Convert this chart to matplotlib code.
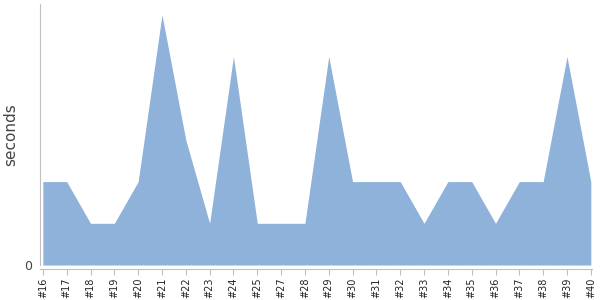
import matplotlib
matplotlib.use("Agg")
import matplotlib.pyplot as plt

builds = ["#16", "#17", "#18", "#19", "#20", "#21", "#22", "#23", "#24", "#25",
          "#27", "#28", "#29", "#30", "#31", "#32", "#33", "#34", "#35", "#36",
          "#37", "#38", "#39", "#40"]
seconds = [2, 2, 1, 1, 2, 6, 3, 1, 5, 1,
           1, 1, 5, 2, 2, 2, 1, 2, 2, 1,
           2, 2, 5, 2]

x = list(range(len(builds)))

fig = plt.figure(figsize=(6, 3), dpi=100)
ax = fig.add_axes([40/600, 35/300, 552/600, 261/300])

ax.fill_between(x, seconds, 0, color="#8fb2da", linewidth=0)

for s in ["top", "right"]:
    ax.spines[s].set_visible(False)
ax.spines["left"].set_color("#c0c0c0")
ax.spines["bottom"].set_color("#c0c0c0")
ax.spines["bottom"].set_position(("outward", 3))

ax.set_xlim(-0.12, len(builds) - 1 + 0.05)
ax.set_ylim(0, 6.26)
ax.set_xticks(x)
ax.set_xticklabels(builds, rotation=90, fontsize=7, color="#222222")
ax.set_yticks([0])
ax.set_yticklabels(["0"], fontsize=9, color="#444444")
ax.set_ylabel("seconds", fontsize=11, color="#444444", labelpad=4)

ax.tick_params(axis="x", colors="#c0c0c0", length=4, labelcolor="#222222", pad=2)
ax.tick_params(axis="y", length=0, pad=6)

fig.savefig("out.png", dpi=100)
